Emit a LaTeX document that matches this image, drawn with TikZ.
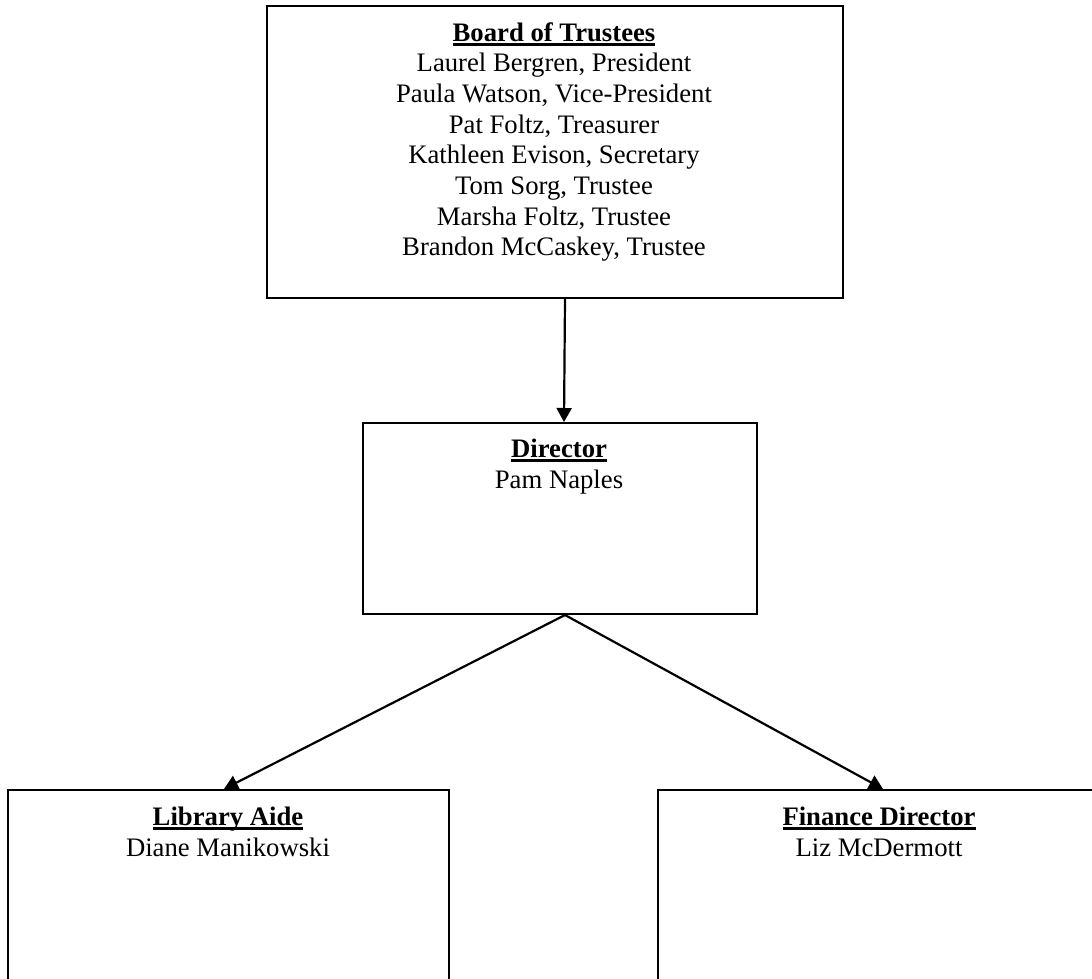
\documentclass[tikz,border=0pt]{standalone}
\usepackage{fontspec}
\setmainfont{Liberation Serif}
\usetikzlibrary{arrows.meta}
\newcommand\ulx[1]{\setbox0\hbox{#1}\rlap{\rule[-4.6pt]{\wd0}{2.2pt}}\box0}
\tikzset{
  box/.style={draw=black, line width=2pt, fill=none, inner sep=0pt, anchor=north west},
  txt/.style={anchor=base, inner sep=0pt, font=\fontsize{26.7}{30.7}\selectfont},
  ttl/.style={txt, font=\fontsize{26.7}{30.7}\selectfont\bfseries},
  conn/.style={draw=black, line width=2.2pt},
  arr/.style={conn, -{Triangle[length=14pt,width=15pt]}}
}
\begin{document}
\begin{tikzpicture}[x=1pt,y=1pt]
\useasboundingbox (0,0) rectangle (1092,-978);
\clip (0,0) rectangle (1092,-978);
% boxes
\node[box, minimum width=576pt, minimum height=292pt] (board) at (266,-5) {};
\node[box, minimum width=394pt, minimum height=191pt] (director) at (362,-422) {};
\node[box, minimum width=441pt, minimum height=230pt] (aide) at (7,-789) {};
\node[box, minimum width=444pt, minimum height=230pt] (finance) at (657,-789) {};
% board text
\node[ttl] (boardt) at (554,-41) {\ulx{Board of Trustees}};
\foreach \t [count=\i] in {{Laurel Bergren, President},{Paula Watson, Vice-President},{Pat Foltz, Treasurer},{Kathleen Evison, Secretary},{Tom Sorg, Trustee},{Marsha Foltz, Trustee},{Brandon McCaskey, Trustee}}
  \node[txt] (bline\i) at (554,{-41-30.7*\i}) {\t};
% director text
\node[ttl] (dirt) at (559,-457) {\ulx{Director}};
\node[txt] (dirn) at (559,-488) {Pam Naples};
% aide text
\node[ttl] (aidet) at (228,-825) {\ulx{Library Aide}};
\node[txt] (aiden) at (228,-856) {Diane Manikowski};
% finance text
\node[ttl] (fint) at (879,-825) {\ulx{Finance Director}};
\node[txt] (finn) at (879,-856) {Liz McDermott};
% connectors
\draw[arr] ([xshift=10pt]board.south) -- ([xshift=4pt]director.north);
\draw[arr] ([xshift=5pt]director.south) -- ([xshift=-4.5pt]aide.north);
\draw[arr] ([xshift=5pt]director.south) -- ([xshift=3pt]finance.north);
\end{tikzpicture}
\end{document}
